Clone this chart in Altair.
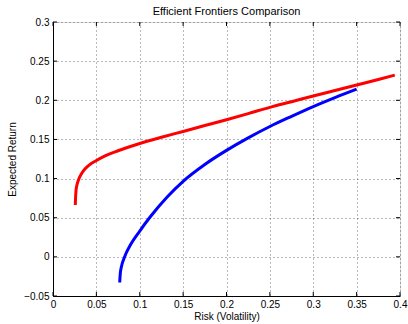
import altair as alt
import pandas as pd

# Data
red_x = [0.0257, 0.0260, 0.0266, 0.0280, 0.0300, 0.0330, 0.0370, 0.0420, 0.0500, 0.0600,
         0.0750, 0.1000, 0.1250, 0.1500, 0.1750, 0.2000, 0.2250, 0.2500, 0.2750, 0.3000,
         0.3250, 0.3500, 0.3750, 0.3940]
red_y = [0.0663, 0.0750, 0.0855, 0.0935, 0.1000, 0.1065, 0.1125, 0.1175, 0.1230, 0.1290,
         0.1355, 0.1448, 0.1527, 0.1602, 0.1677, 0.1752, 0.1830, 0.1910, 0.1982, 0.2055,
         0.2125, 0.2195, 0.2265, 0.2321]
blue_x = [0.0769, 0.0775, 0.0790, 0.0812, 0.0840, 0.0893, 0.1000, 0.1124, 0.1316, 0.1500,
          0.1750, 0.2000, 0.2250, 0.2500, 0.2750, 0.3000, 0.3250, 0.3500]
blue_y = [-0.0328, -0.0220, -0.0120, -0.0040, 0.0040, 0.0155, 0.0330, 0.0515, 0.0765, 0.0965,
          0.1180, 0.1360, 0.1520, 0.1665, 0.1795, 0.1920, 0.2035, 0.2143]
x_ticks = [0, 0.05, 0.1, 0.15, 0.2, 0.25, 0.3, 0.35, 0.4]
y_ticks = [-0.05, 0, 0.05, 0.1, 0.15, 0.2, 0.25, 0.3]

W, H = 347, 274
FONT = "Liberation Sans"

rows = []
for i, (a, b) in enumerate(zip(red_x, red_y)):
    rows.append({"x": a, "y": b, "series": "red", "i": i})
for i, (a, b) in enumerate(zip(blue_x, blue_y)):
    rows.append({"x": a, "y": b, "series": "blue", "i": i})
df = pd.DataFrame(rows)

xscale = alt.Scale(domain=[0, 0.4], nice=False, zero=False)
yscale = alt.Scale(domain=[-0.05, 0.3], nice=False, zero=False)

common = dict(grid=True, gridDash=[1, 3], gridColor="#000000", gridOpacity=0.55,
              ticks=False, domainColor="#000000", labelColor="#000000",
              titleColor="#000000", labelFont=FONT, titleFont=FONT,
              labelFontSize=10, titleFontSize=10, titleFontWeight="normal",
              labelFlush=False, labelOverlap=False, format="~g")
xaxis = alt.Axis(values=x_ticks, title="Risk (Volatility)", labelPadding=3, titlePadding=2, **common)
yaxis = alt.Axis(values=y_ticks, title="Expected Return", labelPadding=4, titlePadding=6, **common)

X = alt.X("x:Q", scale=xscale, axis=xaxis)
Y = alt.Y("y:Q", scale=yscale, axis=yaxis)

lines = alt.Chart(df).mark_line(strokeWidth=3, interpolate="monotone").encode(
    x=X, y=Y,
    color=alt.Color("series:N", scale=alt.Scale(domain=["red", "blue"], range=["#ff0000", "#0000ff"]), legend=None),
    order="i:Q",
    detail="series:N",
)

xt = pd.DataFrame({"x": x_ticks})
yt = pd.DataFrame({"y": y_ticks})
tick_style = dict(color="#000000", strokeWidth=1)
xb = alt.Chart(xt).mark_rule(**tick_style).encode(x=X, y=alt.value(H), y2=alt.value(H - 4))
xtop = alt.Chart(xt).mark_rule(**tick_style).encode(x=X, y=alt.value(0), y2=alt.value(4))
yl = alt.Chart(yt).mark_rule(**tick_style).encode(y=Y, x=alt.value(0), x2=alt.value(4))
yr = alt.Chart(yt).mark_rule(**tick_style).encode(y=Y, x=alt.value(W), x2=alt.value(W - 4))

chart = alt.layer(lines, xb, xtop, yl, yr).properties(
    width=W, height=H,
    title=alt.TitleParams("Efficient Frontiers Comparison", font=FONT, fontSize=11,
                          fontWeight="normal", color="#000000", anchor="middle", offset=0),
    autosize=alt.AutoSizeParams(type="none"),
    padding={"left": 53, "top": 22, "right": 8, "bottom": 28},
).configure_view(stroke="#000000", strokeWidth=1).configure(background="#ffffff")

chart.save("out.html", embed_options={"renderer": "svg", "actions": False})
